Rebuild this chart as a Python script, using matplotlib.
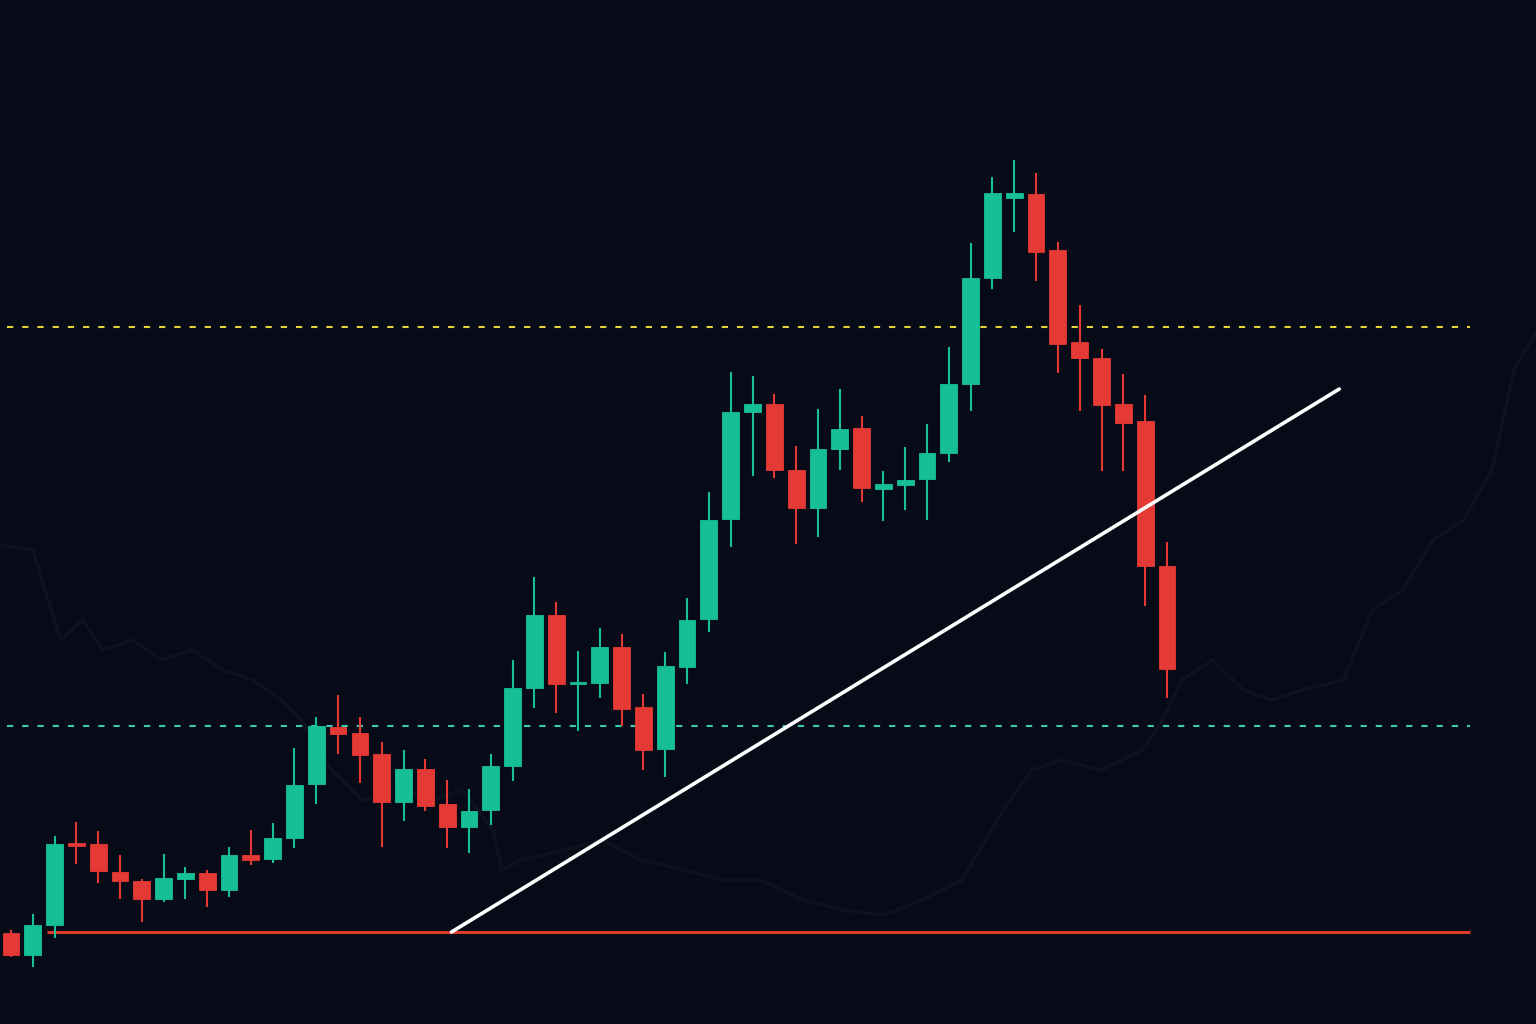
import numpy as np
import matplotlib
matplotlib.use('Agg')
import matplotlib.pyplot as plt

# OHLC values (arbitrary price units)
opens = [91, 69, 99, 181, 180, 152, 143, 125, 145, 151, 134, 169, 165, 186, 240,
         297, 291, 270, 222, 255, 220, 197, 214, 258, 336, 409, 340, 341, 377, 317,
         275, 357, 405, 505, 612, 620, 554, 516, 575, 596, 535, 539, 545, 571, 640,
         746, 826, 830, 774, 682, 666, 620, 603, 458]
closes = [69, 99, 180, 178, 153, 143, 125, 146, 151, 134, 169, 164, 186, 239, 298,
          290, 269, 222, 255, 218, 197, 213, 258, 336, 409, 340, 342, 377, 315, 274,
          358, 404, 504, 612, 620, 554, 516, 575, 595, 536, 540, 544, 571, 640, 746,
          831, 831, 772, 680, 666, 619, 601, 458, 355]
highs = [94, 110, 188, 202, 193, 169, 145, 170, 157, 154, 177, 194, 201, 276, 307,
         329, 307, 282, 274, 265, 244, 235, 270, 364, 447, 422, 373, 396, 390, 330,
         372, 426, 532, 652, 648, 630, 578, 615, 635, 608, 553, 577, 600, 677, 781,
         847, 864, 851, 782, 719, 675, 650, 629, 482]
lows = [67, 57, 86, 160, 141, 125, 102, 122, 125, 117, 127, 159, 161, 176, 220,
        270, 241, 177, 203, 213, 176, 171, 199, 243, 316, 311, 293, 326, 298, 254,
        247, 340, 392, 477, 548, 546, 480, 487, 554, 522, 503, 514, 504, 562, 613,
        735, 792, 743, 651, 613, 553, 553, 418, 326]

# reference levels
resistance = 697
support = 298
base_level = 92
trend_start = (20.2, 92)
trend_end = (60.9, 635)

# faint background price trace
ghost_t = [-0.4, 1.0, 1.7, 2.3, 3.3, 4.2, 5.6, 6.9, 8.3, 9.7, 11.1, 12.4, 13.3, 14.7,
           16.1, 17.9, 19.3, 20.7, 22.1, 22.5, 23.4, 25.3, 27.1, 28.9, 30.8, 32.6,
           34.4, 36.3, 38.1, 40.0, 41.8, 43.6, 45.5, 46.8, 48.2, 50.0, 51.9, 52.8,
           53.7, 55.1, 56.5, 57.8, 59.2, 61.1, 62.4, 63.8, 65.2, 66.6, 67.9, 68.9, 70.0]
ghost_p = [479, 474, 424, 384, 404, 374, 384, 364, 374, 354, 344, 324, 304, 254,
           224, 234, 224, 234, 194, 154, 164, 174, 184, 164, 154, 144,
           144, 124, 114, 109, 124, 144, 214, 254, 264, 254, 274, 304,
           344, 364, 334, 324, 334, 344, 414, 434, 484, 504, 554, 654, 694]

BG = '#070b17'
UP = '#17bf98'
DOWN = '#e53935'

fig = plt.figure(figsize=(15.36, 10.24), dpi=100, facecolor=BG)
ax = fig.add_axes([0, 0, 1, 1])
ax.set_facecolor(BG)
ax.set_xlim(-0.5, 69.92)
ax.set_ylim(0, 1024)
ax.axis('off')

# ghost trace, barely visible behind the candles
ax.plot(ghost_t, ghost_p, color='#0c131f', lw=2.5, zorder=1)

o = np.array(opens)
c = np.array(closes)
t = np.arange(len(o))
up = c >= o
colors = np.where(up, UP, DOWN)

ax.vlines(t, lows, highs, colors=colors, lw=1.5, zorder=3)
body_lo = np.minimum(o, c)
body_h = np.maximum(np.abs(c - o), 2)
ax.bar(t, body_h, bottom=body_lo, width=0.77, color=colors,
       edgecolor=colors, linewidth=0.6, zorder=4)

ax.hlines(resistance, -0.2, 66.9, colors='#e3d43a', lw=1.5,
          linestyles=(0, (3, 4.3)), zorder=2)
ax.hlines(support, -0.2, 66.9, colors='#3ccbb0', lw=1.5,
          linestyles=(0, (3, 4.3)), zorder=2)
ax.hlines(base_level, 1.65, 66.9, colors='#dc3b2c', lw=2.2, zorder=2)
ax.plot([trend_start[0], trend_end[0]], [trend_start[1], trend_end[1]],
        color='white', lw=2.6, solid_capstyle='round', zorder=5)

fig.savefig('out.png', dpi=100, facecolor=BG)
